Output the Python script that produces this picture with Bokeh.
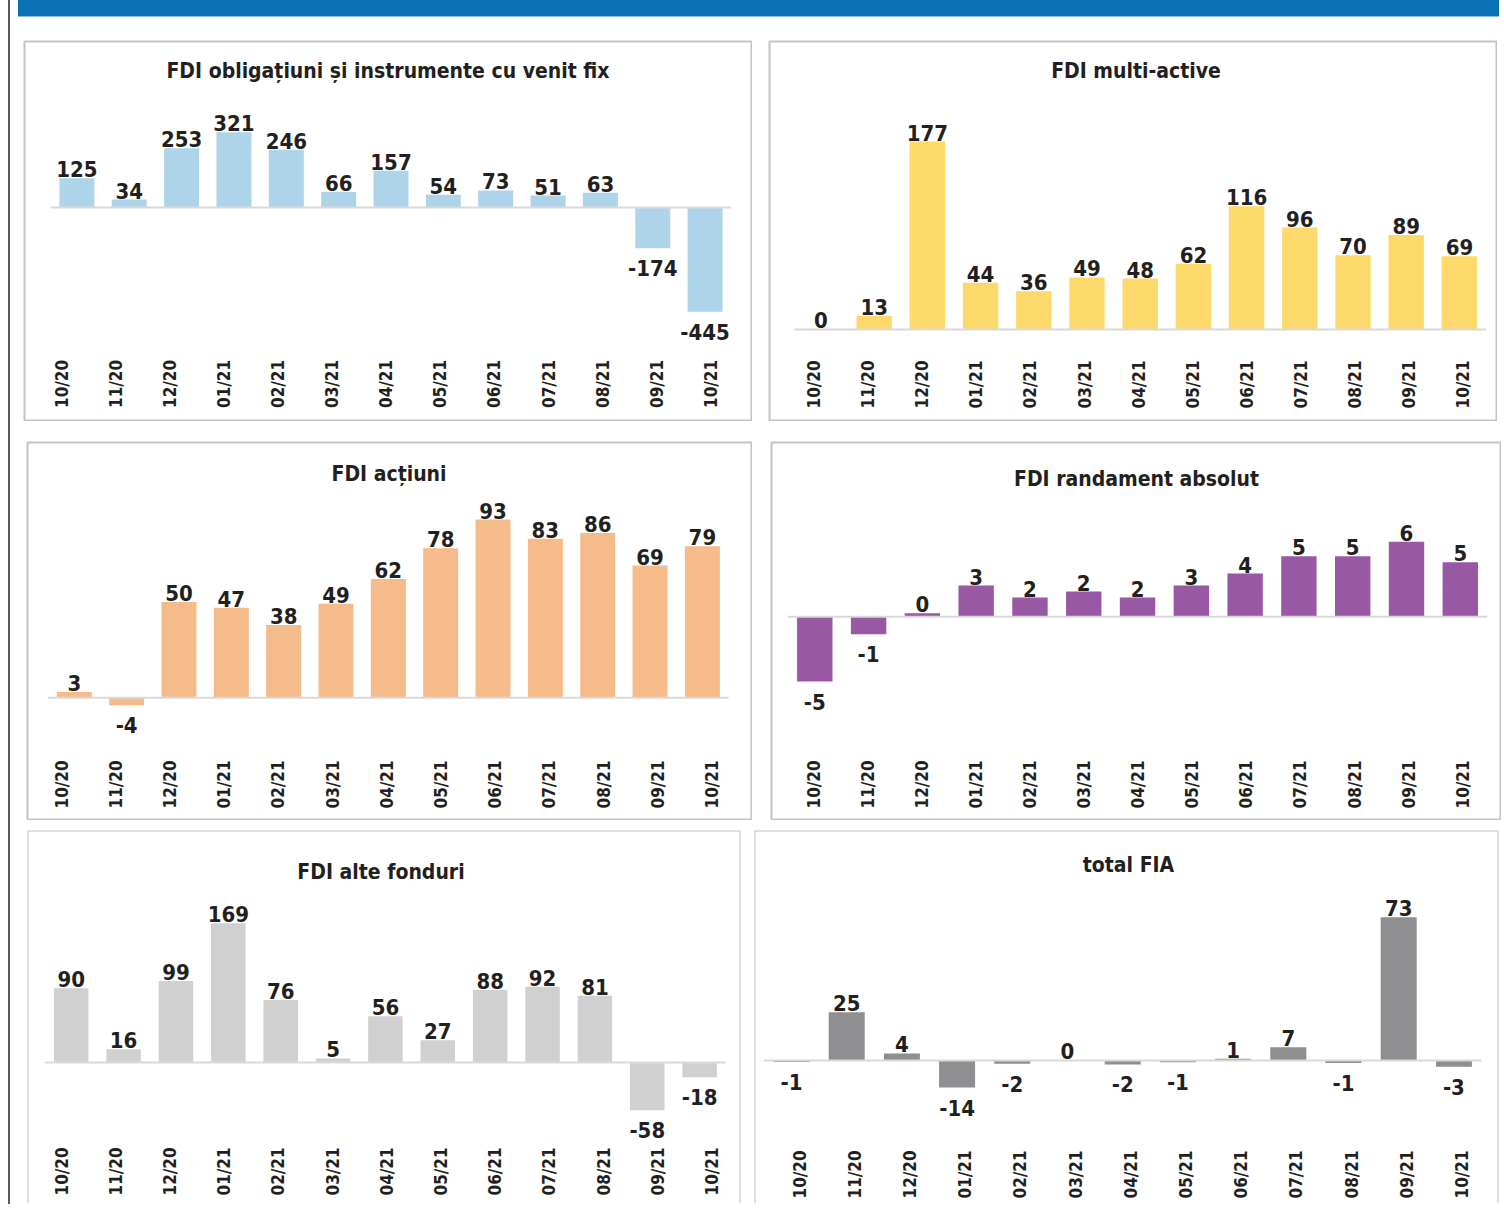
import math
from bokeh.plotting import figure
from bokeh.models import Range1d, ColumnDataSource, Span, Div, Spacer
from bokeh.layouts import row, column
from bokeh.core.properties import value
from bokeh.embed import file_html
from bokeh.resources import INLINE

# ---------------- data ----------------
months = ["10/20", "11/20", "12/20", "01/21", "02/21", "03/21", "04/21",
          "05/21", "06/21", "07/21", "08/21", "09/21", "10/21"]

fdi_obligatiuni = [125, 34, 253, 321, 246, 66, 157, 54, 73, 51, 63, -174, -445]
fdi_multi_active = [0.4, 13, 177, 44, 36, 49, 48, 62, 116, 96, 70, 89, 69]
fdi_actiuni = [3, -4, 50, 47, 38, 49, 62, 78, 93, 83, 86, 69, 79]
fdi_randament_absolut = [-5.4, -1.45, 0.3, 2.6, 1.6, 2.1, 1.6, 2.6, 3.6, 5.05, 5.05, 6.25, 4.55]
fdi_alte_fonduri = [90, 16, 99, 169, 76, 5, 56, 27, 88, 92, 81, -58, -18]
total_fia = [-0.8, 24.6, 3.6, -13.8, -1.7, 0.2, -2.0, -0.9, 0.9, 6.8, -1.3, 73, -3.2]

titles = ["FDI obligațiuni și instrumente cu venit fix", "FDI multi-active",
          "FDI acțiuni", "FDI randament absolut", "FDI alte fonduri", "total FIA"]

FONT = "DejaVu Sans Condensed, Liberation Sans"
TXT = "#231f20"


def fmt(v):
    r = int(math.floor(abs(v) + 0.5))
    return ("-" if (v < 0 and r != 0) else "") + str(r)


def panel(title, vals, color, box, bars, zero_y, k, labs, title_pos, open_bottom=False):
    # box: (left, top, width, height) in page px
    bl, bt, bw, bh = box
    bx0, bstep, bwidth = bars
    lx0, lstep, lbottom = labs
    tcx, tbase = title_pos
    n = len(vals)
    bx0 -= bl
    lx0 -= bl
    tcx -= bl
    zero = zero_y - bt
    lbottom -= bt
    tbase -= bt
    fl, fr, ft, fb = 1, bw - 1, 1, bh - 1
    xs, xe = (fl - bx0) / bstep, (fr - bx0) / bstep
    ye, ys = (zero - ft) / k, -(fb - zero) / k

    p = figure(width=bw, height=bh, x_range=Range1d(xs, xe), y_range=Range1d(ys, ye),
               x_axis_type=None, y_axis_type=None, toolbar_location=None,
               output_backend="svg", min_border=1, title=None, margin=0)
    p.background_fill_color = "white"
    p.border_fill_color = "white"
    if open_bottom:
        p.outline_line_color = None
        for loc, dim in ((xs, "height"), (xe, "height"), (ye, "width")):
            p.add_layout(Span(location=loc, dimension=dim, line_color="#c4c4c4", line_width=2))
    else:
        p.outline_line_color = "#c4c4c4"
        p.outline_line_width = 2

    idx = list(range(n))
    p.vbar(x=idx, top=vals, bottom=0, width=bwidth / bstep, fill_color=color, line_color=None)
    p.segment(x0=[-0.5], y0=[0], x1=[n - 0.5], y1=[0], line_color="#d9d9d9", line_width=2)

    src = ColumnDataSource(dict(
        x=idx, y=vals, t=[fmt(v) for v in vals],
        base=["top" if v < 0 else "alphabetic" for v in vals],
        off=[12 if v < 0 else -9 for v in vals]))
    p.text(x="x", y="y", text="t", source=src, text_baseline="base", y_offset="off",
           text_align="center", text_font=value(FONT), text_font_size="22px",
           text_font_style="bold", text_color=TXT)

    cat_x = [(lx0 + i * lstep - bx0) / bstep for i in idx]
    cat_y = [(zero - lbottom) / k] * n
    p.text(x=cat_x, y=cat_y, text=months, angle=math.pi / 2, text_align="left",
           text_baseline="middle", text_font=value(FONT), text_font_size="17px",
           text_font_style="bold", text_color=TXT)

    p.text(x=[(tcx - bx0) / bstep], y=[(zero - tbase) / k], text=[title],
           text_align="center", text_baseline="alphabetic", text_font=value(FONT),
           text_font_size="21px", text_font_style="bold", text_color=TXT)
    return p


p1 = panel(titles[0], fdi_obligatiuni, "#aed4ea", (24, 41, 729, 381), (77.4, 52.35, 35),
           208, 0.2344, (62.3, 54.08, 408.5), (388.5, 71))
p2 = panel(titles[1], fdi_multi_active, "#fdd96b", (769, 41, 729, 381), (821.5, 53.2, 35.4),
           330, 1.062, (814.5, 54.1, 409), (1136.5, 71))
p3 = panel(titles[2], fdi_actiuni, "#f6bb8a", (27, 442, 726, 379), (74.8, 52.34, 35),
           698.3, 1.917, (62, 54.2, 809), (389.5, 474.5))
p4 = panel(titles[3], fdi_randament_absolut, "#9858a4", (771, 442, 731, 379), (815.3, 53.79, 35.4),
           617.3, 12.0, (814, 54.1, 809), (1137, 479))
p5 = panel(titles[4], fdi_alte_fonduri, "#d0d0d0", (27, 830, 715, 375), (71.7, 52.37, 34.5),
           1063, 0.824, (62, 54.2, 1196), (381.5, 872.5), open_bottom=True)
p6 = panel(titles[5], total_fia, "#8f8f91", (754, 830, 746, 375), (792, 55.2, 36),
           1061, 1.963, (800, 55.2, 1199), (1129, 865), open_bottom=True)

blue = Div(width=1481, height=18, margin=0,
           text='<div style="width:1481px;height:17px;background:#0b72b5;'
                'border-bottom:1px solid #8dbbe0"></div>')
line = Div(width=2, height=1204, margin=0,
           text='<div style="width:2px;height:1204px;background:#5a5a5a"></div>')

col = column(
    blue,
    Spacer(width=1, height=22, margin=0),
    row(Spacer(width=5, height=1, margin=0), p1, Spacer(width=16, height=1, margin=0), p2, margin=0),
    Spacer(width=1, height=20, margin=0),
    row(Spacer(width=8, height=1, margin=0), p3, Spacer(width=18, height=1, margin=0), p4, margin=0),
    Spacer(width=1, height=9, margin=0),
    row(Spacer(width=8, height=1, margin=0), p5, Spacer(width=12, height=1, margin=0), p6, margin=0),
    margin=0,
)
layout = row(Spacer(width=8, height=1204, margin=0), line,
             Spacer(width=8, height=1204, margin=0), col, margin=0)

open("out.html", "w").write(file_html(layout, INLINE))
